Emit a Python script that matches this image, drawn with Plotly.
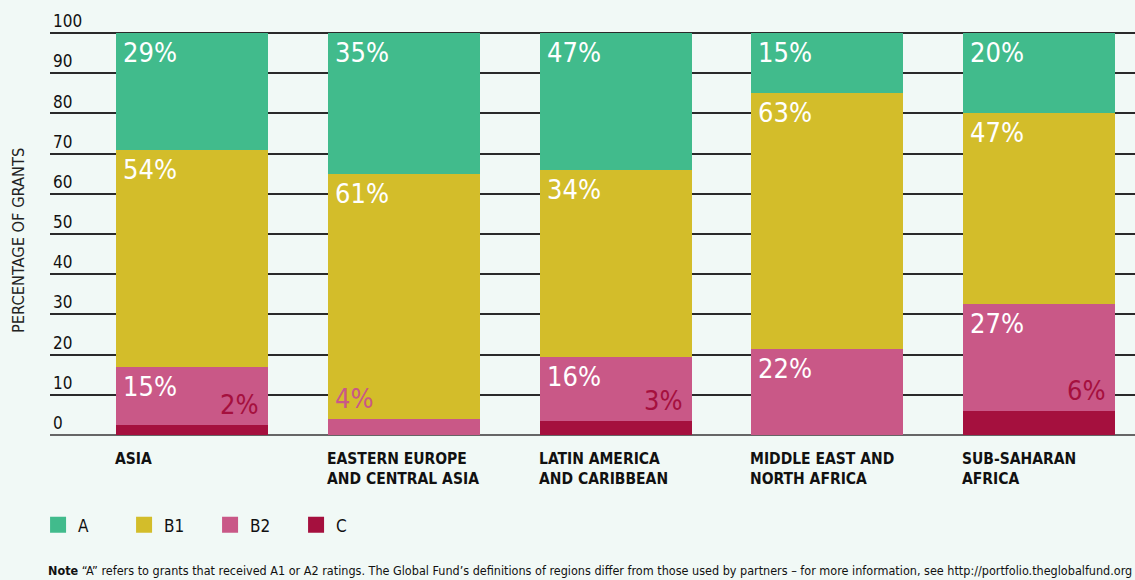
import plotly.graph_objects as go

regions = ["ASIA", "EASTERN EUROPE<br>AND CENTRAL ASIA", "LATIN AMERICA<br>AND CARIBBEAN",
           "MIDDLE EAST AND<br>NORTH AFRICA", "SUB-SAHARAN<br>AFRICA"]
cats = ["Asia", "EECA", "LAC", "MENA", "SSA"]

series_names = ["A", "B1", "B2", "C"]
val_A = [29, 35, 34, 15, 20]
val_B1 = [54, 61, 46.5, 63.5, 47.5]
val_B2 = [14.5, 4, 16, 21.5, 26.5]
val_C = [2.5, 0, 3.5, 0, 6]

lbl_A = ["29%", "35%", "47%", "15%", "20%"]
lbl_B1 = ["54%", "61%", "34%", "63%", "47%"]
lbl_B2 = ["15%", "4%", "16%", "22%", "27%"]
lbl_C = ["2%", "", "3%", "", "6%"]

yticks = [0, 10, 20, 30, 40, 50, 60, 70, 80, 90, 100]

colors = {"A": "#41BB8C", "B1": "#D3BD2A", "B2": "#C95887", "C": "#A5103E"}
BG = "#F1F9F6"
FONT = "DejaVu Sans Condensed, Liberation Sans Narrow, Arial Narrow, sans-serif"

BAR_W = 0.718
HALF_PX = 76
LBL_SIZE = 27

fig = go.Figure()
stack = [("C", val_C), ("B2", val_B2), ("B1", val_B1), ("A", val_A)]
for name, vals in stack:
    fig.add_trace(go.Bar(x=cats, y=vals, name=name, marker_color=colors[name],
                         marker_line_width=0, width=BAR_W, showlegend=False,
                         hoverinfo="skip"))
# legend entries
for name in series_names:
    fig.add_trace(go.Scatter(x=[None], y=[None], mode="markers", name=name,
                             marker=dict(symbol="square", size=16, color=colors[name]),
                             showlegend=True))

annotations = []
for i, c in enumerate(cats):
    top_C = val_C[i]
    top_B2 = top_C + val_B2[i]
    top_B1 = top_B2 + val_B1[i]
    top_A = top_B1 + val_A[i]
    white_labels = [(top_A, lbl_A[i]), (top_B1, lbl_B1[i])]
    if val_B2[i] >= 8:
        white_labels.append((top_B2, lbl_B2[i]))
    else:
        annotations.append(dict(x=c, y=top_B2, xref="x", yref="y", text=lbl_B2[i],
                                showarrow=False, xanchor="left", yanchor="bottom",
                                xshift=-HALF_PX + 5, yshift=3,
                                font=dict(family=FONT, size=LBL_SIZE, color=colors["B2"])))
    for ytop, t in white_labels:
        annotations.append(dict(x=c, y=ytop, xref="x", yref="y", text=t,
                                showarrow=False, xanchor="left", yanchor="top",
                                xshift=-HALF_PX + 5, yshift=-2,
                                font=dict(family=FONT, size=LBL_SIZE, color="white")))
    if lbl_C[i]:
        annotations.append(dict(x=c, y=top_C, xref="x", yref="y", text=lbl_C[i],
                                showarrow=False, xanchor="right", yanchor="bottom",
                                xshift=HALF_PX - 7, yshift=3,
                                font=dict(family=FONT, size=LBL_SIZE, color=colors["C"])))
    annotations.append(dict(x=c, y=-0.03, xref="x", yref="paper", text="<b>" + regions[i] + "</b>",
                            showarrow=False, xanchor="left", yanchor="top", align="left",
                            xshift=-HALF_PX - 3,
                            font=dict(family=FONT, size=15.5, color="#111111")))

annotations.append(dict(x=0, y=-0.317, xref="paper", yref="paper",
                        text="<b>Note</b> \u201cA\u201d refers to grants that received A1 or A2 ratings. "
                             "The Global Fund\u2019s definitions of regions differ from those used by partners "
                             "\u2013 for more information, see http://portfolio.theglobalfund.org",
                        showarrow=False, xanchor="left", yanchor="middle", xshift=-4,
                        font=dict(family=FONT, size=12.5, color="#111111")))
annotations.append(dict(x=-0.0295, y=0.5, xref="paper", yref="paper", text="PERCENTAGE OF GRANTS",
                        textangle=-90, showarrow=False, xanchor="center", yanchor="middle",
                        yshift=-18,
                        font=dict(family=FONT, size=16.3, color="#222222")))

fig.update_layout(
    width=1135, height=580,
    margin=dict(l=50, r=0, t=9, b=145),
    paper_bgcolor=BG, plot_bgcolor=BG,
    barmode="stack",
    font=dict(family=FONT, color="#111111"),
    xaxis=dict(range=[-0.672, 4.454], showticklabels=False, showgrid=False,
               zeroline=False, showline=False, ticks="", fixedrange=True),
    yaxis=dict(range=[0, 106], tickvals=yticks, ticktext=[str(v) for v in yticks],
               showgrid=True, gridcolor="#2a2a2a", gridwidth=1.5,
               zeroline=True, zerolinecolor="#666666", zerolinewidth=1.5,
               ticklabelposition="inside top", ticks="",
               tickfont=dict(family=FONT, size=17, color="#111111"),
               showline=False, fixedrange=True),
    legend=dict(orientation="h", x=-0.011, xanchor="left", y=-0.212, yanchor="middle",
                xref="paper", bgcolor="rgba(0,0,0,0)", font=dict(family=FONT, size=17, color="#111111"),
                entrywidth=41, entrywidthmode="pixels", itemsizing="trace", traceorder="normal"),
    annotations=annotations,
    showlegend=True,
)

fig.write_html("out.html", config={"displayModeBar": False},
               post_script="document.body.style.margin='0';")
